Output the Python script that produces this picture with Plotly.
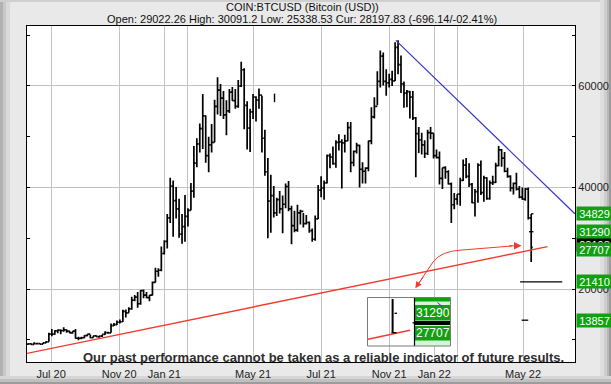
import plotly.graph_objects as go
import pandas as pd

# ---------------- data ----------------
title_text = "COIN:BTCUSD (Bitcoin (USD))"
quote_text = "Open: 29022.26 High: 30091.2 Low: 25338.53 Cur: 28197.83 (-696.14/-02.41%)"
disclaimer = "Our past performance cannot be taken as a reliable indicator of future results."

bar_start = "2020-07-01"
bar_days = 4
# price bars in USD thousands (4-day bars)
high_k = [
    9.3, 9.3, 9.5, 9.35, 9.3, 9.4, 9.7, 11.4, 12.1, 11.9,
    12.0, 12.0, 12.45, 12.0, 11.8, 11.7, 12.1, 10.6, 10.6, 10.9,
    11.1, 11.0, 10.8, 10.9, 10.7, 11.0, 11.7, 11.6, 13.2, 13.3,
    13.8, 14.0, 15.9, 15.95, 16.4, 18.5, 18.8, 19.4, 19.8, 19.9,
    19.4, 18.8, 21.5, 24.2, 24.1, 28.4, 29.6, 34.8, 41.9, 41.4,
    40.1, 37.8, 34.8, 38.5, 35.9, 40.9, 48.2, 49.7, 52.6, 58.4,
    54.2, 50.0, 52.5, 57.3, 61.7, 60.4, 59.0, 57.2, 59.4, 59.8,
    59.4, 61.2, 64.8, 63.5, 57.0, 55.5, 58.4, 58.0, 59.5, 58.1,
    51.4, 45.8, 42.5, 40.3, 38.0, 39.3, 38.4, 40.8, 41.3, 36.4,
    35.4, 36.6, 35.6, 35.0, 34.6, 33.3, 31.9, 34.5, 40.5, 42.2,
    41.4, 46.5, 46.7, 48.1, 49.3, 50.5, 49.5, 50.4, 52.9, 52.9,
    47.3, 48.8, 48.4, 45.0, 44.0, 49.2, 55.8, 57.8, 62.9, 67.0,
    66.6, 63.3, 62.4, 63.0, 68.6, 69.0, 66.0, 60.9, 59.2, 59.0,
    59.0, 53.9, 51.9, 50.8, 49.3, 51.4, 51.9, 50.7, 47.5, 47.1,
    43.9, 44.2, 43.4, 41.0, 38.9, 38.7, 41.9, 45.5, 45.8, 44.8,
    40.9, 39.7, 44.8, 45.3, 42.3, 42.0, 41.4, 42.3, 44.9, 48.2,
    47.6, 47.0, 43.9, 42.4, 41.0, 42.9, 40.3, 40.0, 39.9, 40.0, 34.8,
]
low_k = [
    9.0, 9.0, 9.1, 9.15, 9.1, 9.1, 9.3, 9.6, 10.7, 11.0,
    11.3, 11.1, 11.6, 11.4, 11.3, 11.2, 10.2, 9.9, 10.1, 10.3,
    10.7, 10.3, 10.4, 10.6, 10.4, 10.55, 11.0, 11.2, 11.4, 12.7,
    12.9, 13.2, 13.5, 14.4, 15.3, 15.9, 17.6, 16.3, 16.9, 18.2,
    18.2, 17.6, 18.7, 21.3, 22.4, 23.5, 26.8, 28.0, 33.0, 30.3,
    33.9, 30.1, 28.9, 29.3, 32.3, 35.5, 38.0, 44.0, 46.9, 47.6,
    44.9, 43.0, 46.9, 48.9, 54.4, 54.1, 53.5, 50.3, 54.7, 57.1,
    55.5, 55.7, 59.8, 51.5, 47.5, 47.0, 53.5, 53.0, 55.5, 46.9,
    42.3, 30.0, 31.1, 34.1, 34.4, 34.9, 31.0, 35.9, 35.3, 28.8,
    31.2, 31.3, 32.7, 32.1, 32.7, 31.1, 29.3, 29.5, 33.8, 38.1,
    37.6, 40.8, 43.8, 44.5, 43.9, 47.3, 39.8, 46.9, 49.1, 43.0,
    44.2, 46.7, 40.0, 40.8, 40.8, 43.2, 48.5, 53.6, 56.2, 59.7,
    60.1, 58.1, 59.7, 60.0, 61.0, 62.3, 58.6, 55.7, 55.8, 53.6,
    53.3, 42.0, 46.8, 46.5, 45.8, 46.4, 49.5, 45.7, 45.7, 40.6,
    39.7, 41.7, 40.6, 33.0, 35.7, 36.6, 36.4, 41.3, 41.8, 40.1,
    36.9, 34.3, 37.0, 38.5, 37.2, 37.6, 37.6, 40.5, 40.9, 44.2,
    44.1, 43.0, 41.9, 39.2, 38.6, 39.4, 37.9, 37.6, 37.4, 33.7, 25.3,
]
close_k = [
    9.2, 9.1, 9.25, 9.25, 9.15, 9.4, 9.6, 11.1, 11.1, 11.75,
    11.9, 11.8, 11.95, 11.7, 11.35, 11.7, 10.3, 10.3, 10.4, 10.8,
    11.1, 10.4, 10.75, 10.6, 10.7, 11.05, 11.4, 11.35, 12.8, 13.0,
    13.45, 13.55, 15.6, 15.3, 16.1, 17.8, 18.4, 17.1, 19.7, 18.8,
    18.3, 18.8, 21.3, 23.5, 23.7, 27.0, 29.4, 34.0, 40.3, 37.4,
    35.8, 30.8, 32.3, 34.3, 35.5, 39.3, 44.8, 48.6, 51.6, 54.1,
    46.3, 48.4, 48.9, 56.0, 59.2, 57.6, 54.3, 55.1, 58.8, 57.1,
    56.0, 60.0, 63.2, 56.2, 51.7, 54.9, 57.8, 57.2, 58.2, 49.7,
    43.1, 37.3, 38.4, 35.0, 37.6, 35.8, 36.7, 40.2, 35.8, 32.5,
    31.6, 35.0, 35.3, 32.9, 33.1, 31.5, 29.8, 33.8, 39.5, 39.9,
    40.9, 46.3, 46.0, 44.7, 48.9, 49.0, 48.8, 49.2, 51.8, 44.9,
    47.1, 48.3, 43.6, 43.2, 43.8, 49.2, 53.9, 56.0, 60.9, 65.9,
    60.9, 60.6, 61.3, 61.0, 67.6, 64.2, 60.4, 58.6, 58.9, 57.8,
    53.7, 50.6, 49.4, 48.4, 46.7, 50.8, 50.7, 46.3, 45.9, 41.8,
    43.9, 43.1, 40.7, 36.6, 37.7, 38.7, 41.4, 44.4, 42.2, 40.6,
    37.0, 39.2, 44.4, 39.0, 41.9, 37.8, 40.9, 41.0, 44.3, 47.4,
    45.8, 43.2, 42.2, 39.9, 40.8, 39.7, 38.1, 37.7, 39.7, 34.0, 28.2,
]
first_open_k = 9.15

glitch_date = "2021-05-30"
glitch_low = 56800
glitch_high = 58500

tick_dates = ["2020-08-01", "2020-11-01", "2021-01-01", "2021-02-01", "2021-05-01",
              "2021-08-01", "2021-11-01", "2022-01-01", "2022-02-01", "2022-05-01"]
tick_labels = ["Jul 20", "Nov 20", "Jan 21", "", "May 21",
               "Jul 21", "Nov 21", "Jan 22", "", "May 22"]

support_dates = ["2020-06-29", "2022-06-03"]
support_vals = [7300, 28350]
resist_dates = ["2021-11-10", "2022-07-10"]
resist_vals = [69000, 34829]

target_levels = [34829, 31290, 27707, 21410, 13857]
cur_value = 28197.83

mark_levels = [34829, 31290, 21410, 13857]
mark_starts = ["2022-05-12", "2022-05-09", "2022-04-27", "2022-04-29"]
mark_ends = ["2022-05-15", "2022-05-15", "2022-06-23", "2022-05-08"]

inset_levels = [31290, 27707]

# ---------------- build ----------------
W, H = 611, 384
L, R, T, B = 27, 36, 26, 22
PW, PH = W - L - R, H - T - B


def PX(x):
    return (x - L) / PW


def PY(y):
    return (H - B - y) / PH


dates = pd.date_range(bar_start, periods=len(close_k), freq=f"{bar_days}D")
close = [v * 1000 for v in close_k]
high = [v * 1000 for v in high_k]
low = [v * 1000 for v in low_k]
opens = [first_open_k * 1000] + close[:-1]

GREEN = "#12a012"
FONT = "Liberation Sans, Arial, sans-serif"

fig = go.Figure()

fig.add_trace(go.Ohlc(
    x=dates, open=opens, high=high, low=low, close=close,
    increasing=dict(line=dict(color="black", width=1.7)),
    decreasing=dict(line=dict(color="black", width=1.7)),
    tickwidth=0.5, hoverinfo="skip", showlegend=False,
))
fig.add_trace(go.Scatter(x=[glitch_date, glitch_date], y=[glitch_low, glitch_high],
                         mode="lines", line=dict(color="black", width=1.4),
                         showlegend=False, hoverinfo="skip"))
fig.add_trace(go.Scatter(x=support_dates, y=support_vals, mode="lines",
                         line=dict(color="#f23a2e", width=1.4), showlegend=False, hoverinfo="skip"))
fig.add_trace(go.Scatter(x=resist_dates, y=resist_vals, mode="lines",
                         line=dict(color="#3535c8", width=1.2), showlegend=False, hoverinfo="skip"))
mx, my = [], []
for lv, s, e in zip(mark_levels, mark_starts, mark_ends):
    mx += [s, e, None]
    my += [lv, lv, None]
fig.add_trace(go.Scatter(x=mx, y=my, mode="lines", line=dict(color="black", width=1.3),
                         showlegend=False, hoverinfo="skip"))

shapes = []
# frame / background bevel
bg = [
    (0, 0, 3, H, "#b2b2b2"), (3, 0, 6, H, "#c9c9c9"), (6, 0, 10, H, "#dadada"),
    (0, 0, W, 2, "#cfcfcf"),
    (600, 0, 604, H, "#dedede"), (604, 0, 607, H, "#cdcdcd"), (607, 0, 609, H, "#b7b7b7"), (609, 0, W, H, "#9c9c9c"),
    (0, 376, W, 379, "#d6d6d6"), (0, 379, W, 382, "#c0c0c0"), (0, 382, W, H, "#9c9c9c"),
]
for x0, y0, x1, y1, c in bg:
    shapes.append(dict(type="rect", xref="paper", yref="paper", x0=PX(x0), x1=PX(x1), y0=PY(y1), y1=PY(y0),
                       fillcolor=c, line=dict(width=0), layer="below"))

# inset (magnified view of latest bar)
ix0, ix1, iy0, iy1 = 367.5, 450.5, 297.5, 346
iax = 414.5


def rect(x0, y0, x1, y1, fill, lw=0, lc="rgba(0,0,0,0)"):
    shapes.append(dict(type="rect", xref="paper", yref="paper", x0=PX(x0), x1=PX(x1), y0=PY(y1), y1=PY(y0),
                       fillcolor=fill, line=dict(width=lw, color=lc), layer="above"))


def seg(x0, y0, x1, y1, color, w):
    shapes.append(dict(type="line", xref="paper", yref="paper", x0=PX(x0), x1=PX(x1), y0=PY(y0), y1=PY(y1),
                       line=dict(color=color, width=w), layer="above"))


rect(iax, iy0, ix1, iy1, "#d6f5d6")
rect(iax, iy0, ix1, 301.5, GREEN)
rect(iax, 305, ix1, 320.5, GREEN)
rect(iax, 321, ix1, 325, "black")
rect(iax, 326, ix1, 340.5, GREEN)
seg(437.5, 302.5, 442, 306.5, "#3535c8", 1)
seg(iax, iy0, iax, iy1, "black", 1.2)
seg(368, 339.3, 410, 330.2, "#f23a2e", 1.4)
seg(392.6, 299, 392.6, 332.7, "black", 2)
seg(391.5, 332.7, 396.5, 332.7, "black", 1.3)
seg(394.5, 313.3, 397, 313.3, "black", 1.3)
seg(412.5, 322.8, 416, 322.8, "black", 1.3)
rect(ix0, iy0, ix1, iy1, "rgba(0,0,0,0)", 1, "#7a7a7a")

# curved red arrow
path = (f"M {PX(416.5)},{PY(286.5)} L {PX(433)},{PY(262)} "
        f"Q {PX(441)},{PY(251)} {PX(462)},{PY(250)} L {PX(512)},{PY(246)}")
shapes.append(dict(type="path", xref="paper", yref="paper", path=path,
                   line=dict(color="#f23a2e", width=1), layer="above"))

annotations = [
    dict(xref="paper", yref="paper", x=PX(302), y=PY(7), text=title_text, showarrow=False,
         font=dict(family=FONT, size=11, color="#111"), xanchor="center", yanchor="middle"),
    dict(xref="paper", yref="paper", x=PX(302), y=PY(19), text=quote_text, showarrow=False,
         font=dict(family=FONT, size=11, color="#111"), xanchor="center", yanchor="middle"),
    dict(xref="paper", yref="paper", x=PX(323), y=PY(357.5), text="<b>" + disclaimer + "</b>", showarrow=False,
         font=dict(family=FONT, size=13, color="#2e2e2e"), xanchor="center", yanchor="middle"),
    # arrow heads
    dict(xref="paper", yref="paper", x=PX(415.3), y=PY(288.3), ax=9, ay=-13, text="", showarrow=True,
         arrowhead=2, arrowsize=1.3, arrowwidth=1, arrowcolor="#f23a2e", standoff=0),
    dict(xref="paper", yref="paper", x=PX(521.5), y=PY(245.8), ax=-14, ay=0, text="", showarrow=True,
         arrowhead=2, arrowsize=1.5, arrowwidth=1, arrowcolor="#f23a2e", standoff=0),
]

# right-hand price labels
lab_x = PX(575.5)
annotations.append(dict(xref="paper", yref="y", x=lab_x, y=cur_value, yshift=3, text=f"{cur_value:.0f}",
                        showarrow=False, xanchor="left", yanchor="middle", bgcolor="black",
                        width=33, height=11, borderpad=1, font=dict(family=FONT, size=11, color="white")))
for lv in target_levels:
    annotations.append(dict(xref="paper", yref="y", x=lab_x, y=lv, text=str(lv),
                            showarrow=False, xanchor="left", yanchor="middle", bgcolor=GREEN,
                            width=33, height=11, borderpad=1, font=dict(family=FONT, size=11, color="white")))
# inset labels
for lv, yc in zip(inset_levels, [312.8, 333.2]):
    annotations.append(dict(xref="paper", yref="paper", x=PX(432.5), y=PY(yc), text=str(lv), showarrow=False,
                            xanchor="center", yanchor="middle", font=dict(family=FONT, size=12, color="white")))

fig.update_layout(
    width=W, height=H, autosize=False,
    margin=dict(l=L, r=R, t=T, b=B, pad=0, autoexpand=False),
    paper_bgcolor="#e9e9e9", plot_bgcolor="white",
    showlegend=False,
    shapes=shapes, annotations=annotations,
    font=dict(family=FONT, size=11, color="#222"),
)
fig.update_xaxes(
    type="date", range=["2020-06-29 10:00", "2022-07-10 05:00"], automargin=False,
    tickvals=tick_dates, ticktext=tick_labels,
    showgrid=True, gridcolor="#c2c2c2", gridwidth=1,
    showline=True, linecolor="black", linewidth=1.2, mirror=True,
    ticks="", ticklabelstandoff=2, rangeslider=dict(visible=False),
    tickfont=dict(family=FONT, size=11, color="#222"),
)
fig.update_yaxes(
    side="right", range=[5620, 71820], tick0=0, dtick=20000, tickformat="d", automargin=False,
    showgrid=True, gridcolor="#c2c2c2", gridwidth=1, zeroline=False,
    showline=True, linecolor="black", linewidth=1.2, mirror="ticks",
    ticks="inside", ticklen=3, tickcolor="black",
    minor=dict(dtick=10000, tick0=0, ticks="inside", ticklen=3, tickcolor="black", showgrid=False),
    tickfont=dict(family=FONT, size=11, color="#222"),
)

fig.write_html("out.html", config={"displayModeBar": False},
               post_script="document.body.style.margin='0';document.body.style.overflow='hidden';")
